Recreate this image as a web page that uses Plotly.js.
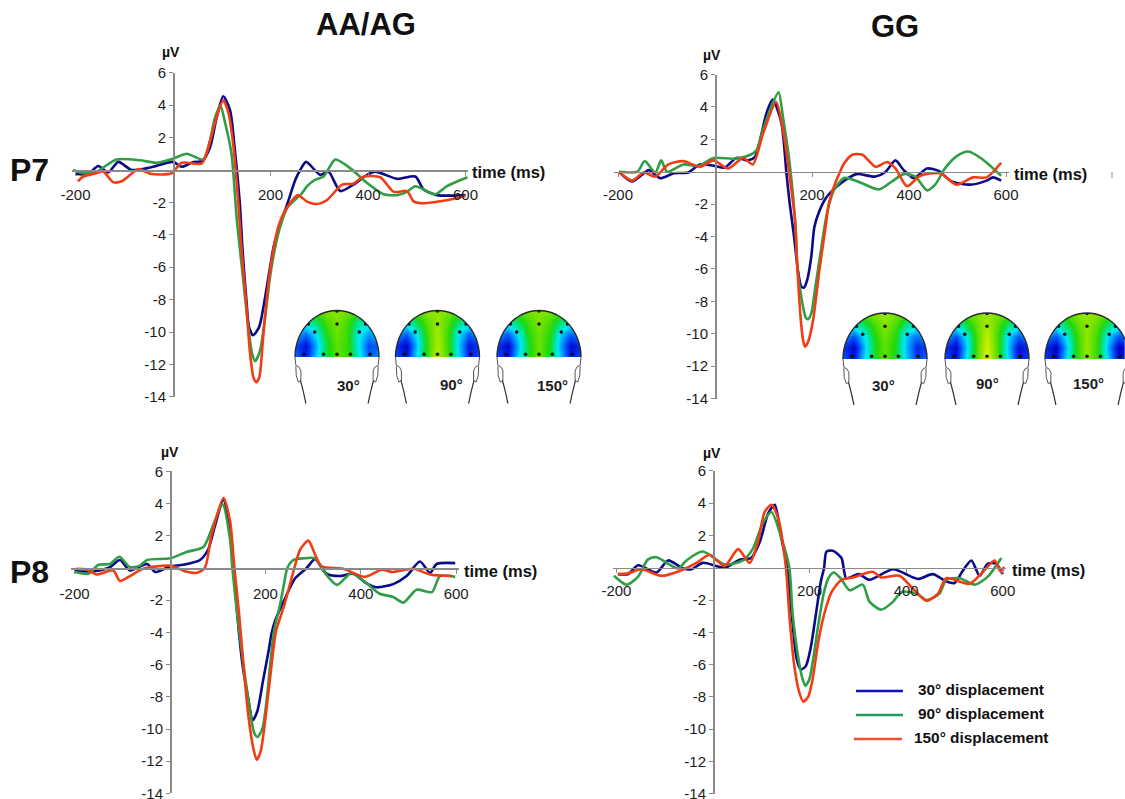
<!DOCTYPE html>
<html><head><meta charset="utf-8">
<script src="https://cdn.plot.ly/plotly-3.0.1.min.js"></script>
<style>html,body{margin:0;padding:0;background:#fff}#c{width:1125px;height:799px}</style>
</head><body><div id="c"></div>
<script>
// ---- ERP data (time ms / amplitude µV) ----
const aa_p7_30_t=[-200,-175,-153,-133,-112,-85,-47,0,18,42,60,76,90,103,117,127,137,143,151,156,164,176.6,187,198,206,216,235,251,261,273,302,319,343,370,398,415,460,497,514,542,600];
const aa_p7_30_v=[-.25,-.25,.25,-.15,.5,0,.15,.5,.2,.5,.55,1.4,3.3,4.55,3.7,1.2,-2.05,-5.1,-8.2,-9.7,-10.2,-9.7,-8.2,-6.2,-4.8,-3.7,-2.05,-.6,0,.5,-.3,-.1,-1.3,-.9,-.3,-.1,-.55,-.4,-1.2,-1.55,-1.55];
const aa_p7_90_t=[-205,-184,-157,-116,-68,-34,0,28,62,76,86,97,107,120,131,142,153,162,168.5,179,188,201,218,235,264,275,292,309,333,364,398,432,460,480,497,538,562,604];
const aa_p7_90_v=[0,-.2,-.1,.65,.6,.45,.7,1,.65,1.85,3.2,4,2.9,1,-3.1,-6.2,-9.3,-11.3,-11.8,-11.1,-9.3,-6.2,-3.7,-2.3,-1.45,-1,-.6,-.4,.65,.1,-.8,-1.5,-1.55,-1.35,-1,-1.5,-1,-.45];
const aa_p7_150_t=[-195,-184,-164,-143,-123,-105,-71,-44,-3,18,59,73,86,103,114,124,134,141,150,158,165,170.6,177,185,195,205,216,230,251,257,275,295,316,347,370,391,425,453,480,494,514,555,600];
const aa_p7_150_v=[-.7,-.4,-.25,-.1,-.75,-.7,.05,-.25,-.2,.45,.4,1.45,2.9,4.3,3.5,1.45,-2.05,-5.1,-8.2,-11.3,-12.8,-13.1,-12.8,-10.3,-7.2,-5.1,-3.5,-2.5,-1.65,-1.55,-1.95,-2.1,-1.85,-.9,-.85,-.4,-.45,-1.35,-1.3,-1.95,-2.05,-1.9,-1.6];

const gg_p7_30_t=[-198,-171,-136,-113,-85,-55,-31,0,20,44,68,82,96,106,119,137,147,154,163,171,178,183.6,190,198.5,205,215.6,228,248,269,292,331,352,372,389,410,437,461,488,526,560,573,590];
const gg_p7_30_v=[0,-.6,.1,-.4,-.1,-.05,.45,.35,.25,.85,.7,.9,2.35,3.6,4.45,3,0,-1.95,-4,-6.1,-7.1,-7.15,-6.7,-5.25,-3.4,-2.4,-1.65,-1,-.5,-.15,-.3,0,.7,.1,-.4,.2,.05,-.6,-.8,-.55,-.35,-.55];
const gg_p7_90_t=[-198,-160,-145,-123,-111,-99,-65,-34,-3,37,65,85,99,116,131,140,154,166,170,180,187,192,198.5,207,217.7,231,245,265,275,302,338,365,389,413,437,454,474,498,522,550,590];
const gg_p7_90_v=[0,0,.65,-.05,.7,0,.45,.35,.85,.8,.95,1.3,2.6,4,4.9,3.4,.5,-3.4,-6,-8.1,-9,-9.1,-8.75,-7.1,-5,-2.55,-1.15,-.4,-.4,-.7,-1.1,-.6,-.15,-.3,-1.15,-.8,.2,.95,1.25,.8,-.25];
const gg_p7_150_t=[-198,-171,-147,-123,-96,-65,-31,-3,27,58,78,99,126,140,154,165,170,177,181.6,185.6,192,202,215.6,228,234.6,248,258,266,283,304,331,355,372,396,423,464,498,532,560,590];
const gg_p7_150_v=[0,-.55,-.05,-.3,.45,.65,.3,.7,.2,.85,.45,2.35,4.3,2.6,-.3,-3,-6,-9.2,-10.4,-10.8,-10.5,-9.2,-6,-3.4,-2,-.7,0,.5,1.05,1.05,.3,.6,.2,-.9,-.25,-.1,-.8,-.35,-.35,.55];

const aa_p8_30_t=[-199,-161,-126,-105,-84,-48,-31,0,28,63,80,94,112,122,133,141,152,164,173.4,183,195,207.6,213,220,241,262,286.6,304,328,356,384,412,433,468,496,524,545,559,598];
const aa_p8_30_v=[-.2,-.2,.05,.5,-.15,.25,-.25,.1,.2,.5,1.15,2.6,4.25,3,.1,-2.9,-6,-8.1,-9.45,-8.9,-7,-5,-4.05,-3.3,-1.9,-.65,0,.55,-.35,-.5,-.35,-.95,-1.2,-1,-.5,.4,-.3,.25,.3];
const aa_p8_90_t=[-199,-171,-150,-126,-106,-84,-63,-48,0,35,70,91,110,126,130.7,141,154,166,176,183,193.6,203,210,218,230.6,239,246,259,280,304,322,350,381,412,440,468,489,517,549,566,598];
const aa_p8_90_v=[-.25,-.35,.2,.25,.7,.05,.15,.5,.6,1,1.3,2.7,3.95,1.75,0,-2.9,-6,-8.5,-10.2,-10.5,-10,-8.1,-6,-3.95,-2.3,-1,0,.5,.6,.6,-.2,-1.05,-.3,-.95,-1.6,-1.8,-2.15,-1.35,-1.5,-.5,-.55];
const aa_p8_150_t=[-196,-175,-154,-119,-105,-84,-56,0,31,56,73,87,112,126,135,145,154,164,174.7,181.7,190,201,213,222,237.6,251.6,260.7,273,290,304,318,363,409,444,465,510,545,591];
const aa_p8_150_v=[-.05,-.1,-.4,-.15,-.8,-.5,-.05,.15,-.2,-.3,0,2.05,4.35,2.9,0,-2.9,-6,-9.1,-11.2,-11.9,-11.4,-9.1,-6,-3.95,-2.5,-1,0,1.15,1.7,.85,.1,-.05,-.55,-.1,-.25,-.05,-.4,-.5];

const gg_p8_30_t=[-197,-176,-155,-117,-93,-62,-45,-21,24,55,79,97,114,128,141,154,163,173,181.5,192,202,213,223,230,235,248,266,276,302,324,373,424,455,483,500,518,535,552,569,586,600];
const gg_p8_30_v=[-.4,-.4,.15,-.3,.45,-.05,-.1,.3,0,.5,.6,1.6,3.35,3.9,1.9,0,-2.9,-5.6,-6.3,-6.1,-5,-2.9,-.9,0,1,1.05,.6,-.65,-.4,-.75,-.1,-.7,-.4,-.85,-.95,-.15,.45,-.5,.25,.25,-.4];
const gg_p8_90_t=[-205,-179,-155,-135,-117,-72,-55,-21,24,62,83,103,121,141,158,165,176.7,185,191,199,207.7,219,230,239,250,264,283,310,324,348,373,390,421,442,469,483,511,542,569,597];
const gg_p8_90_v=[-.5,-1.05,-.55,.5,.65,-.05,.45,1,.2,.45,1.2,2.75,3.45,1.9,0,-2.9,-5.6,-6.85,-7.3,-6.95,-5.6,-3.35,-1.5,-.65,-.3,-.65,-1.4,-1.05,-2.1,-2.6,-2.1,-1.5,-1.6,-2,-1.6,-.75,-.65,-1.05,-.55,.6];
const gg_p8_150_t=[-197,-176,-148,-107,-69,-34,-7,24,52,76,93,107,121,135,151,158,168,178,187,197,205.6,218,230,245.7,266,290,331,348,386,414,442,466,483,531,559,583,597,602];
const gg_p8_150_v=[-.4,-.35,-.1,-.5,-.2,.3,.8,.1,1.15,.3,1.6,3.45,3.9,3.05,0,-2.9,-6,-7.65,-8.3,-8,-7,-4.6,-2.9,-1.5,-.75,-.6,-.25,-.6,-.5,-1.3,-2.05,-1.6,-.65,-1,-.25,.45,-.3,.05];

const seriesNames=['30° displacement','90° displacement','150° displacement'];
const seriesColors=['#0b0b8a','#2f9e44','#f23c12'];
const legendColors=['#1010c0','#1f9a60','#f05030'];
const xTickVals=[-200,200,400,600], xTickText=['-200','200','400','600'];
const yTickVals=[6,4,2,-2,-4,-6,-8,-10,-12,-14], yTickText=['6','4','2','-2','-4','-6','-8','-10','-12','-14'];
const angleLabels=['30°','90°','150°'];

// ---- scalp maps: coarse estimated grids (bottom row first) ----
const mapX=[-1,-.75,-.5,-.25,0,.25,.5,.75,1];
const mapY=[0,.25,.5,.75,1];
const map_aa30=[[.2,.07,.32,.6,.75,.68,.42,.17,.24],[.16,.04,.27,.6,.75,.68,.38,.14,.18],[.3,.2,.36,.65,.78,.68,.38,.26,.32],[.5,.45,.55,.72,.8,.7,.5,.42,.5],[.7,.68,.75,.8,.82,.78,.72,.65,.65]];
const map_aa90=[[.16,.04,.34,.7,.92,.7,.36,.07,.16],[.12,.01,.29,.68,.9,.68,.33,.05,.12],[.28,.18,.36,.7,.88,.68,.36,.18,.28],[.5,.45,.58,.75,.85,.72,.55,.42,.5],[.7,.68,.75,.82,.84,.8,.72,.65,.65]];
const map_aa150=[[.16,.04,.33,.62,.78,.62,.32,.05,.16],[.12,.01,.28,.62,.78,.62,.28,.03,.1],[.28,.18,.36,.66,.78,.66,.34,.18,.26],[.5,.45,.56,.72,.8,.72,.55,.43,.5],[.7,.68,.75,.8,.82,.8,.74,.66,.66]];
const map_gg30=[[.18,.04,.34,.62,.75,.62,.33,.12,.2],[.12,.01,.28,.62,.76,.62,.3,.09,.14],[.28,.16,.35,.65,.78,.65,.32,.2,.28],[.5,.44,.55,.72,.82,.72,.52,.42,.5],[.7,.68,.75,.82,.85,.8,.74,.66,.66]];
const map_gg90=[[.16,.04,.35,.72,1,.72,.36,.05,.14],[.12,.01,.3,.72,.98,.7,.32,.03,.1],[.28,.16,.36,.72,.94,.7,.35,.17,.26],[.5,.44,.58,.77,.88,.74,.55,.42,.5],[.7,.68,.75,.82,.86,.8,.74,.66,.66]];
const map_gg150=[[.14,.02,.33,.66,.85,.66,.33,.02,.12],[.1,.0,.28,.66,.85,.66,.28,.0,.07],[.28,.16,.36,.68,.84,.68,.34,.16,.24],[.5,.44,.56,.74,.84,.74,.55,.42,.5],[.7,.68,.75,.82,.85,.82,.74,.66,.66]];
const mapScale=[[0,'#0000c0'],[.12,'#0038f0'],[.25,'#0098ff'],[.36,'#00ecf4'],[.5,'#00e48c'],[.65,'#22d80c'],[.8,'#7ce400'],[1,'#def400']];
const electrodeX=[-.79,-.32,0,.32,.79,-.53,.53,0,0,-.68,.68];
const electrodeY=[.06,.06,.06,.06,.06,.54,.54,.71,.99,.71,.71];

// ---- layout helpers ----
const W=1125,H=799;
const fx=p=>p/W, fy=p=>1-p/H;
const FONT='"Liberation Sans", Arial, sans-serif', TXT='#1c1c1c', AXIS='#8a8a8a';
const data=[], shapes=[], anns=[];
const layout={width:W,height:H,margin:{l:0,r:0,t:0,b:0,pad:0},paper_bgcolor:'#fff',plot_bgcolor:'rgba(0,0,0,0)',
  font:{family:FONT,color:TXT},shapes,annotations:anns,showlegend:false};

const panels=[
 {id:'',   px0:173,kx:.4875,py0:170,  ky:16.2, std:7, s:[[aa_p7_30_t,aa_p7_30_v],[aa_p7_90_t,aa_p7_90_v],[aa_p7_150_t,aa_p7_150_v]]},
 {id:'2',  px0:715,kx:.485, py0:171.7,ky:16.2, std:6, s:[[gg_p7_30_t,gg_p7_30_v],[gg_p7_90_t,gg_p7_90_v],[gg_p7_150_t,gg_p7_150_v]]},
 {id:'3',  px0:170,kx:.477, py0:568,  ky:16.1, std:8, s:[[aa_p8_30_t,aa_p8_30_v],[aa_p8_90_t,aa_p8_90_v],[aa_p8_150_t,aa_p8_150_v]]},
 {id:'4',  px0:713,kx:.483, py0:567.7,ky:16.15,std:6, s:[[gg_p8_30_t,gg_p8_30_v],[gg_p8_90_t,gg_p8_90_v],[gg_p8_150_t,gg_p8_150_v]]}
];
panels.forEach(p=>{
  const xr=[-208,606], yr=[-14,6];
  layout['xaxis'+p.id]={range:xr,domain:[fx(p.px0+xr[0]*p.kx),fx(p.px0+xr[1]*p.kx)],anchor:'free',position:fy(p.py0),
    showgrid:false,zeroline:false,showline:true,linecolor:AXIS,linewidth:1.6,ticks:'outside',ticklen:4,tickcolor:AXIS,tickwidth:1,
    tickmode:'array',tickvals:xTickVals,ticktext:xTickText,ticklabelstandoff:p.std-1,ticklabeloverflow:'allow',tickfont:{family:FONT,size:15,color:TXT}};
  layout['yaxis'+p.id]={range:yr,domain:[fy(p.py0-yr[0]*p.ky),fy(p.py0-yr[1]*p.ky)],anchor:'free',position:fx(p.px0),
    showgrid:false,zeroline:false,showline:true,linecolor:AXIS,linewidth:1.6,ticks:'outside',ticklen:4,tickcolor:AXIS,tickwidth:1,
    tickmode:'array',tickvals:yTickVals,ticktext:yTickText,ticklabeloverflow:'allow',tickfont:{family:FONT,size:15,color:TXT}};
  p.s.forEach((s,i)=>data.push({type:'scatter',mode:'lines',x:s[0],y:s[1],xaxis:'x'+p.id,yaxis:'y'+p.id,
    name:seriesNames[i],hoverinfo:'skip',
    line:{color:seriesColors[i],width:2.6,shape:'spline',smoothing:.7}}));
});

// scalp maps
const heads=[
 {cx:337,top:310.5,base:357,z:map_aa30,a:0,lx:348,ly:385},
 {cx:437.5,top:310.5,base:357,z:map_aa90,a:1,lx:451,ly:384},
 {cx:539,top:310.5,base:357,z:map_aa150,a:2,lx:552,ly:385},
 {cx:885,top:313,base:359,z:map_gg30,a:0,lx:883,ly:385},
 {cx:987,top:313,base:359,z:map_gg90,a:1,lx:987,ly:383},
 {cx:1087,top:313,base:359,z:map_gg150,a:2,lx:1088,ly:383}
];
const RX=42;
heads.forEach((h,i)=>{
  const n=i+5, id=String(n), xa='x'+id, ya='y'+id, ky=h.base-h.top;
  const xr=[-1.18,Math.min(1.18,(W-h.cx)/RX)], yr=[-1.02,1.2];
  layout['xaxis'+id]={range:xr,domain:[fx(h.cx+xr[0]*RX),fx(h.cx+xr[1]*RX)],visible:false,fixedrange:true,anchor:'y'+id};
  layout['yaxis'+id]={range:yr,domain:[fy(h.base-yr[0]*ky),fy(h.base-yr[1]*ky)],visible:false,fixedrange:true,anchor:'x'+id};
  data.push({type:'heatmap',x:mapX,y:mapY,z:h.z,xaxis:xa,yaxis:ya,zmin:0,zmax:1,zsmooth:'best',colorscale:mapScale,showscale:false,hoverinfo:'skip'});
  data.push({type:'scatter',mode:'markers',x:electrodeX,y:electrodeY,xaxis:xa,yaxis:ya,hoverinfo:'skip',marker:{color:'#101010',size:3.5}});
  // arc points for the scalp edge
  let arc=[];
  for(let d=180;d>=0;d-=6){const r=d*Math.PI/180;arc.push([Math.cos(r),Math.sin(r)]);}
  const arcPath=arc.map((q,j)=>(j?'L':'M')+q[0].toFixed(3)+' '+q[1].toFixed(3)).join(' ');
  // white masks: corners outside the scalp, and the strip under its base
  shapes.push({type:'path',xref:xa,yref:ya,layer:'above',path:arcPath+' L1.16 0 L1.16 1.19 L-1.16 1.19 L-1.16 0 Z',fillcolor:'#fff',line:{width:0}});
  shapes.push({type:'rect',xref:xa,yref:ya,layer:'above',x0:-1.16,x1:1.16,y0:-.3,y1:0,fillcolor:'#fff',line:{width:0}});
  shapes.push({type:'path',xref:xa,yref:ya,layer:'above',path:arcPath,line:{color:'#2a2a2a',width:1.4}});
  [-1,1].forEach(sg=>{
    const ear=[[1,0],[.98,-.18],[.9,-.22],[.86,-.3],[.86,-.5],[.92,-.54],[.97,-.4],[.98,-.2]];
    const neck=[[.87,-.5],[.8,-.75],[.74,-1]];
    shapes.push({type:'path',xref:xa,yref:ya,layer:'above',path:ear.map((q,j)=>(j?'L':'M')+(sg*q[0])+' '+q[1]).join(' '),line:{color:'#555',width:1}});
    shapes.push({type:'path',xref:xa,yref:ya,layer:'above',path:neck.map((q,j)=>(j?'L':'M')+(sg*q[0])+' '+q[1]).join(' '),line:{color:'#333',width:1.2}});
  });
  anns.push({xref:'paper',yref:'paper',x:fx(h.lx),y:fy(h.ly),xanchor:'center',yanchor:'middle',text:angleLabels[h.a],showarrow:false,font:{family:FONT,size:15,weight:'bold',color:TXT}});
});

function label(text,px,py,size,xanchor){anns.push({xref:'paper',yref:'paper',x:fx(px),y:fy(py),xanchor:xanchor||'center',yanchor:'middle',text,showarrow:false,borderpad:0,font:{family:FONT,size,weight:'bold',color:'#111'}});}
label('AA/AG',366,24,31); label('GG',895,26,31);
label('P7',29,170,32); label('P8',29,572,32);
[[171,52],[712,55],[170,452],[712,453]].forEach(q=>label('µV',q[0],q[1],14));
[[508,172],[1050,174],[500,571],[1048,570]].forEach(q=>label('time (ms)',q[0],q[1],16.5));
shapes.push({type:'line',xref:'paper',yref:'paper',x0:fx(1112),x1:fx(1112),y0:fy(172),y1:fy(178),line:{color:AXIS,width:1}});

// key (manual placement to follow the original's spacing)
const keyRows=[[856,903,691,917,689],[856,903,715,917,713],[854,902,739,913,737]];
keyRows.forEach((r,i)=>{
  shapes.push({type:'line',xref:'paper',yref:'paper',x0:fx(r[0]),x1:fx(r[1]),y0:fy(r[2]),y1:fy(r[2]),line:{color:legendColors[i],width:2.5}});
  label(seriesNames[i],r[3],r[4],15.4,'left');
});

Plotly.newPlot('c',data,layout,{displayModeBar:false,staticPlot:true});
</script></body></html>
